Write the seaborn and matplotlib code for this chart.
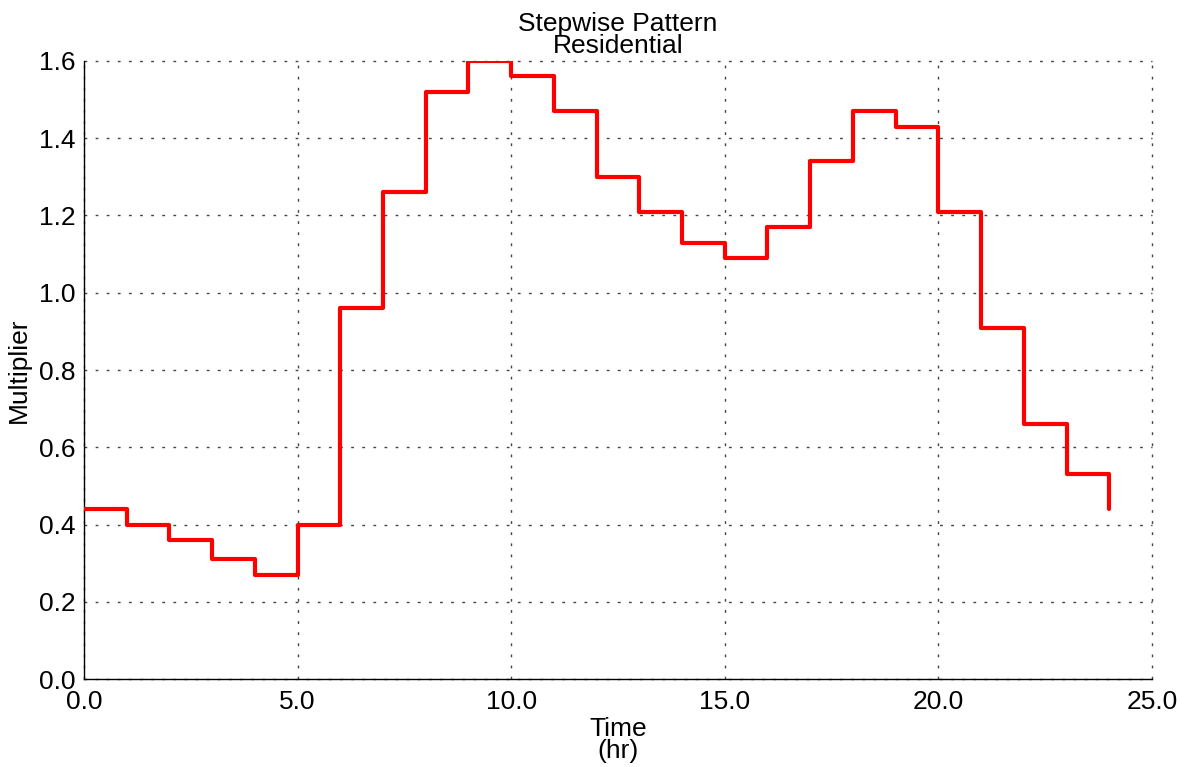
import numpy as np
import pandas as pd
import matplotlib
matplotlib.use("Agg")
import matplotlib.pyplot as plt
import seaborn as sns

# -------------------------------
# Data (hourly multipliers)
# -------------------------------
hours = list(range(0, 25))
multiplier = [0.44, 0.40, 0.36, 0.31, 0.27, 0.40, 0.96, 1.26, 1.52, 1.60,
              1.56, 1.47, 1.30, 1.21, 1.13, 1.09, 1.17, 1.34, 1.47, 1.43,
              1.21, 0.91, 0.66, 0.53, 0.44]

x_ticks = [0, 5, 10, 15, 20, 25]
x_tick_labels = ["0.0", "5.0", "10.0", "15.0", "20.0", "25.0"]
y_ticks = [0.0, 0.2, 0.4, 0.6, 0.8, 1.0, 1.2, 1.4, 1.6]
y_tick_labels = ["0.0", "0.2", "0.4", "0.6", "0.8", "1.0", "1.2", "1.4", "1.6"]

df = pd.DataFrame({"Time": hours, "Multiplier": multiplier})

sns.set_style("white")
plt.rcParams["font.family"] = ["Liberation Sans", "DejaVu Sans"]
plt.rcParams["text.color"] = "black"
plt.rcParams["axes.labelcolor"] = "black"
plt.rcParams["xtick.color"] = "black"
plt.rcParams["ytick.color"] = "black"

fig = plt.figure(figsize=(11.86, 7.67), dpi=100)
ax = fig.add_axes([0.0708, 0.1147, 0.9005, 0.8058])

sns.lineplot(
    data=df,
    x="Time",
    y="Multiplier",
    drawstyle="steps-post",
    color="#ff0000",
    linewidth=3,
    ax=ax,
    zorder=3
)

ax.set_xlim(0, 25)
ax.set_ylim(0, 1.6)
ax.set_xticks(x_ticks)
ax.set_xticklabels(x_tick_labels, fontsize=19)
ax.set_yticks(y_ticks)
ax.set_yticklabels(y_tick_labels, fontsize=19)
ax.tick_params(axis="x", length=0, pad=8)
ax.tick_params(axis="y", length=0, pad=6)

ax.grid(True, linestyle=(0, (2, 6)), color="#444444", linewidth=1)
for gl in ax.get_xgridlines() + ax.get_ygridlines():
    gl.set_clip_on(False)

for side in ["top", "right"]:
    ax.spines[side].set_visible(False)
for side in ["left", "bottom"]:
    ax.spines[side].set_color("black")
    ax.spines[side].set_linewidth(1)

ax.set_xlabel("Time\n(hr)", fontsize=19, labelpad=2, linespacing=0.9)
ax.set_ylabel("Multiplier", fontsize=19, labelpad=6)
ax.set_title("Stepwise Pattern\nResidential", fontsize=19, pad=6, linespacing=0.9)

fig.savefig("out.png", dpi=100)
plt.close()
